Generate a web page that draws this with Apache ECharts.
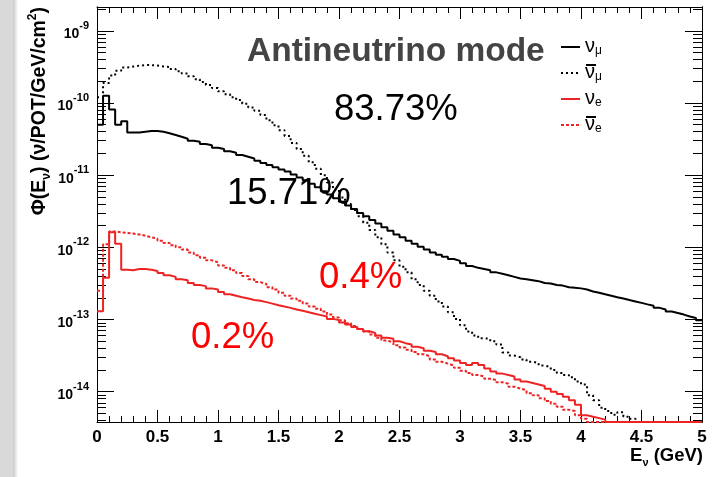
<!DOCTYPE html>
<html>
<head>
<meta charset="utf-8">
<script src="https://cdn.jsdelivr.net/npm/echarts@6/dist/echarts.min.js"></script>
<style>
html,body{margin:0;padding:0;background:#fff;}
#chart{width:719px;height:477px;}
</style>
</head>
<body>
<div id="chart"></div>
<script>
// ---- data (flux per bin, v/POT/GeV/cm^2), bins of 0.05 GeV from 0 to 5 GeV ----
const binWidth = 0.05;
const xMin = 0, xMax = 5;
const yMin = 3.8e-15, yMax = 2.14e-9;
const xTickLabels = ['0','0.5','1','1.5','2','2.5','3','3.5','4','4.5','5'];

const numu = [
 5.0e-11,1.26e-10,8.1e-11,5.0e-11,5.6e-11,3.9e-11,3.9e-11,4.0e-11,4.1e-11,4.1e-11,
 4.0e-11,3.8e-11,3.6e-11,3.4e-11,3.2e-11,3.0e-11,2.9e-11,2.7e-11,2.6e-11,2.4e-11,
 2.3e-11,2.14e-11,2.04e-11,1.9e-11,1.8e-11,1.7e-11,1.58e-11,1.48e-11,1.38e-11,1.29e-11,
 1.2e-11,1.12e-11,1.02e-11,9.3e-12,8.5e-12,7.6e-12,6.8e-12,6.0e-12,5.4e-12,4.8e-12,
 4.3e-12,3.8e-12,3.4e-12,3.0e-12,2.7e-12,2.4e-12,2.14e-12,1.9e-12,1.7e-12,1.51e-12,
 1.38e-12,1.23e-12,1.12e-12,1.02e-12,9.3e-13,8.5e-13,7.9e-13,7.4e-13,6.9e-13,6.5e-13,
 6.0e-13,5.5e-13,5.2e-13,5.0e-13,4.8e-13,4.5e-13,4.3e-13,4.1e-13,3.9e-13,3.7e-13,
 3.6e-13,3.5e-13,3.4e-13,3.2e-13,3.16e-13,3.0e-13,2.95e-13,2.8e-13,2.75e-13,2.7e-13,
 2.6e-13,2.45e-13,2.35e-13,2.24e-13,2.14e-13,2.04e-13,1.95e-13,1.86e-13,1.78e-13,1.7e-13,
 1.62e-13,1.55e-13,1.45e-13,1.38e-13,1.29e-13,1.23e-13,1.17e-13,1.1e-13,1.05e-13,9.8e-14
];
const numubar = [
 1.2e-10,1.9e-10,2.4e-10,2.8e-10,3.1e-10,3.2e-10,3.3e-10,3.35e-10,3.35e-10,3.3e-10,
 3.2e-10,3.16e-10,2.95e-10,2.75e-10,2.57e-10,2.34e-10,2.14e-10,1.95e-10,1.78e-10,1.62e-10,
 1.45e-10,1.32e-10,1.2e-10,1.1e-10,9.8e-11,8.7e-11,7.8e-11,6.8e-11,5.75e-11,4.9e-11,
 4.2e-11,3.5e-11,2.8e-11,2.3e-11,1.86e-11,1.51e-11,1.23e-11,1.0e-11,7.9e-12,6.3e-12,
 4.9e-12,4.0e-12,3.3e-12,2.7e-12,2.2e-12,1.74e-12,1.38e-12,1.1e-12,8.5e-13,6.6e-13,
 5.4e-13,4.5e-13,3.6e-13,3.0e-13,2.5e-13,2.14e-13,1.78e-13,1.51e-13,1.26e-13,1.02e-13,
 8.3e-14,6.8e-14,6.0e-14,5.5e-14,5.4e-14,5.0e-14,4.5e-14,3.5e-14,3.16e-14,3.0e-14,
 2.8e-14,2.6e-14,2.5e-14,2.3e-14,2.2e-14,2.0e-14,1.82e-14,1.7e-14,1.58e-14,1.38e-14,
 1.26e-14,8.9e-15,7.6e-15,6.0e-15,5.4e-15,4.8e-15,5.2e-15,4.5e-15,4.2e-15,0,
 0,0,0,0,0,0,0,0,0,0
];
const nue = [
 1.3e-13,3.8e-13,1.62e-12,1.12e-12,4.9e-13,4.8e-13,5.0e-13,5.0e-13,4.9e-13,4.7e-13,
 4.4e-13,4.1e-13,3.9e-13,3.6e-13,3.5e-13,3.2e-13,3.0e-13,2.9e-13,2.7e-13,2.6e-13,
 2.4e-13,2.24e-13,2.14e-13,2.04e-13,1.95e-13,1.86e-13,1.82e-13,1.74e-13,1.66e-13,1.58e-13,
 1.51e-13,1.45e-13,1.38e-13,1.32e-13,1.26e-13,1.2e-13,1.15e-13,1.1e-13,1.02e-13,9.8e-14,
 9.1e-14,8.5e-14,7.9e-14,7.4e-14,6.9e-14,6.5e-14,6.0e-14,5.6e-14,5.4e-14,5.0e-14,
 4.7e-14,4.5e-14,4.2e-14,4.0e-14,3.7e-14,3.55e-14,3.3e-14,3.1e-14,2.9e-14,2.7e-14,
 2.5e-14,2.34e-14,2.5e-14,2.34e-14,2.1e-14,1.9e-14,1.78e-14,1.7e-14,1.62e-14,1.48e-14,
 1.38e-14,1.32e-14,1.26e-14,1.2e-14,1.1e-14,1.0e-14,9.3e-15,8.5e-15,7.6e-15,6.6e-15,
 4.7e-15,4.5e-15,4.3e-15,4.1e-15,0,0,0,0,0,0,
 0,0,0,0,0,0,0,0,0,0
];
const nuebar = [
 2.5e-13,1.1e-12,1.66e-12,1.62e-12,1.58e-12,1.55e-12,1.51e-12,1.45e-12,1.38e-12,1.32e-12,
 1.23e-12,1.15e-12,1.07e-12,1.0e-12,9.3e-13,8.5e-13,7.8e-13,7.2e-13,6.6e-13,6.2e-13,
 5.6e-13,5.2e-13,4.8e-13,4.4e-13,4.0e-13,3.6e-13,3.3e-13,3.1e-13,2.8e-13,2.6e-13,
 2.34e-13,2.14e-13,1.95e-13,1.82e-13,1.66e-13,1.51e-13,1.41e-13,1.29e-13,1.17e-13,1.07e-13,
 9.8e-14,8.9e-14,8.1e-14,7.4e-14,6.8e-14,6.2e-14,5.6e-14,5.1e-14,4.8e-14,4.4e-14,
 4.1e-14,3.8e-14,3.55e-14,3.3e-14,3.1e-14,2.8e-14,2.6e-14,2.45e-14,2.3e-14,2.14e-14,
 1.95e-14,1.82e-14,1.7e-14,1.62e-14,1.51e-14,1.45e-14,1.35e-14,1.29e-14,1.17e-14,1.1e-14,
 1.05e-14,9.5e-15,8.9e-15,8.1e-15,7.4e-15,6.8e-15,6.2e-15,5.6e-15,5.4e-15,4.7e-15,
 4.2e-15,0,0,0,0,0,0,0,0,0,
 0,0,0,0,0,0,0,0,0,0
];
const seriesNames = ['numu','numubar','nue','nuebar'];
const legendSub = ['\u03BC','\u03BC','e','e'];
const legendBar = [false,true,false,true];
const annotations = [
  {text:'83.73%', x:334, y:110, color:'#000'},
  {text:'15.71%', x:227, y:194, color:'#000'},
  {text:'0.4%', x:319, y:278, color:'#ff0000'},
  {text:'0.2%', x:191, y:338, color:'#ff0000'}
];

// ---- helpers ----
const FONT = '"Liberation Sans", Arial, Helvetica, sans-serif';
const BLACK = '#000000', RED = '#ee2424';
const styles = {
  numu:{color:BLACK, type:'solid'},
  numubar:{color:BLACK, type:[2,3]},
  nue:{color:RED, type:'solid'},
  nuebar:{color:RED, type:[3,2]}
};
function histData(vals){
  // ROOT-like: empty bins drawn on the lower frame
  const d = vals.map((v,i)=>[i*binWidth, v>0 ? v : yMin]);
  const last = vals[vals.length-1];
  d.push([xMax, last>0 ? last : yMin]);
  return d;
}
const majorY = [], minorY = [];
for (let n=-15;n<=-9;n++){
  const p = Math.pow(10,n);
  if (p>=yMin && p<=yMax) majorY.push(p);
  for (let k=2;k<=9;k++){ const v=k*p; if (v>=yMin && v<=yMax) minorY.push(v); }
}

const chart = echarts.init(document.getElementById('chart'), null, {renderer:'canvas'});
const yLabelFmt = v => '{b|10}{s|' + Math.round(Math.log10(v)) + '}';
const yLabelRich = {
  b:{fontSize:14, fontWeight:'bold', fontFamily:FONT, color:'#000', lineHeight:21, verticalAlign:'bottom'},
  s:{fontSize:11, fontWeight:'bold', fontFamily:FONT, color:'#000', lineHeight:12, verticalAlign:'top'}
};
function yAxisDef(position, major, showLabel){
  return {
    type:'log', logBase:10, min:yMin, max:yMax, position:position,
    axisLine:{show:true, onZero:false, lineStyle:{color:'#000', width:1}},
    axisTick:{show:true, inside:true, length: major?17:9, customValues: major?majorY:minorY, lineStyle:{color:'#000', width:1}},
    minorTick:{show:false},
    splitLine:{show:false},
    axisLabel:{show:showLabel, customValues: majorY, formatter:yLabelFmt, rich:yLabelRich, margin:8}
  };
}
function xAxisDef(position, showLabel){
  return {
    type:'value', min:xMin, max:xMax, interval:0.5, position:position,
    axisLine:{show:true, onZero:false, lineStyle:{color:'#000', width:1}},
    axisTick:{show:true, inside:true, length:12, lineStyle:{color:'#000', width:1}},
    minorTick:{show:true, splitNumber:5, length:6, lineStyle:{color:'#000', width:1}},
    splitLine:{show:false},
    axisLabel:{show:showLabel, margin:7, fontSize:17, fontWeight:'bold', fontFamily:FONT, color:'#000',
      formatter: v => xTickLabels[Math.round(v/0.5)]}
  };
}

const lineCommon = {type:'line', step:'end', symbol:'none', showSymbol:false, animation:false, xAxisIndex:0, yAxisIndex:0, clip:true};
const dataBySeries = {numu:numu, numubar:numubar, nue:nue, nuebar:nuebar};

// manual ROOT-style legend
const legendTop = [47, 73, 99, 125];
const legendGraphics = [];
seriesNames.forEach((nm,i)=>{
  const y = legendTop[i];
  legendGraphics.push({type:'line', shape:{x1:561, y1:y, x2:580, y2:y}, style:{stroke:styles[nm].color, lineWidth:2, lineDash: styles[nm].type==='solid'?null:styles[nm].type}, silent:true});
  legendGraphics.push({type:'text', x:585, y:y-1, style:{
    text:'{n|\u03BD}{sub|' + legendSub[i] + '}', align:'left', verticalAlign:'middle',
    rich:{
      n:{fontSize:20, fontFamily:FONT, fill:'#000', lineHeight:22, verticalAlign:'middle'},
      sub:{fontSize:12, fontFamily:FONT, fill:'#000', lineHeight:12, verticalAlign:'bottom'}
    }}, silent:true});
  if (legendBar[i]) {
    legendGraphics.push({type:'line', shape:{x1:586, y1:y-8, x2:596, y2:y-8}, style:{stroke:'#000', lineWidth:2}, silent:true});
  }
});

chart.setOption({
  animation:false,
  backgroundColor:'#ffffff',
  grid:{left:97, right:17, top:7, bottom:55, show:false},
  xAxis:[xAxisDef('bottom', true), xAxisDef('top', false)],
  yAxis:[yAxisDef('left', true, true), yAxisDef('left', false, false), yAxisDef('right', true, false), yAxisDef('right', false, false)],
  series: seriesNames.map(nm => Object.assign({}, lineCommon, {
    name:nm, data:histData(dataBySeries[nm]),
    lineStyle:{color:styles[nm].color, width:2, type:styles[nm].type},
    itemStyle:{color:styles[nm].color}
  })),
  graphic:[
    {type:'rect', left:0, top:0, shape:{width:13, height:477}, style:{fill:'#d9d9d9'}, silent:true},
    {type:'rect', left:13, top:0, shape:{width:5, height:477}, style:{fill:new echarts.graphic.LinearGradient(0,0,1,0,[{offset:0,color:'#c8c8c8'},{offset:1,color:'#ffffff'}])}, silent:true},
    {type:'text', x:40, y:7, rotation:Math.PI/2, style:{
      text:'{b|\u03A6(E}{sub|\u03BD}{b|) (\u03BD/POT/GeV/cm}{sup|2}{b|)}',
      align:'right', verticalAlign:'middle',
      rich:{
        b:{fontSize:19.5, fontWeight:'bold', fontFamily:FONT, fill:'#000', lineHeight:26, verticalAlign:'middle'},
        sub:{fontSize:12, fontWeight:'bold', fontFamily:FONT, fill:'#000', lineHeight:14, verticalAlign:'bottom'},
        sup:{fontSize:12, fontWeight:'bold', fontFamily:FONT, fill:'#000', lineHeight:14, verticalAlign:'top'}
      }}},
    {type:'text', x:703, y:456, style:{
      text:'{b|E}{sub|\u03BD}{b| (GeV)}', align:'right', verticalAlign:'middle',
      rich:{
        b:{fontSize:18.5, fontWeight:'bold', fontFamily:FONT, fill:'#000', lineHeight:24, verticalAlign:'middle'},
        sub:{fontSize:11, fontWeight:'bold', fontFamily:FONT, fill:'#000', lineHeight:13, verticalAlign:'bottom'}
      }}},
    {type:'text', x:247, y:52, style:{text:'Antineutrino mode', fontSize:33.5, fontWeight:'bold', fontFamily:FONT, fill:'#444444', align:'left', verticalAlign:'middle'}}
  ].concat(legendGraphics)
   .concat(annotations.map(a=>({type:'text', x:a.x, y:a.y, style:{text:a.text, fontSize:36.5, fontFamily:FONT, fill:a.color, align:'left', verticalAlign:'middle'}})))
});
</script>
</body>
</html>
